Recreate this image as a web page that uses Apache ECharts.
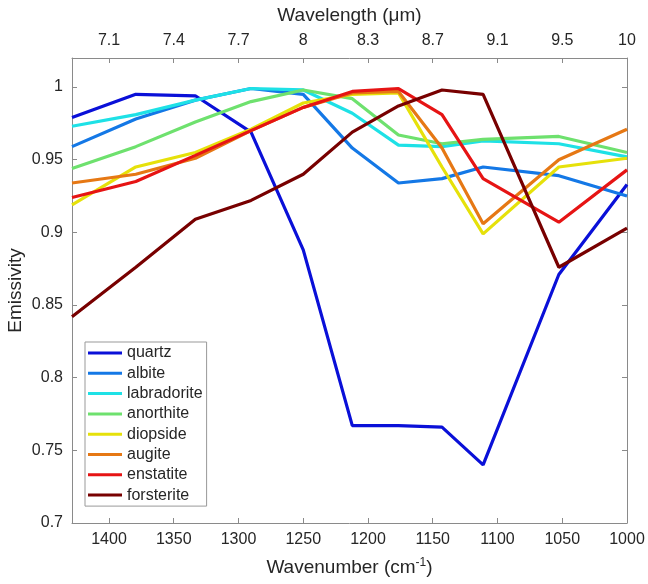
<!DOCTYPE html>
<html>
<head>
<meta charset="utf-8">
<script src="https://cdn.jsdelivr.net/npm/echarts@6/dist/echarts.min.js"></script>
<style>
  html, body { margin: 0; padding: 0; background: #fff; }
  #chart { width: 648px; height: 584px; }
</style>
</head>
<body>
<div id="chart"></div>
<script>
// wavenumbers (cm-1) of the samples = 10000 / wavelength
var wavenumber = [1428.57, 1379.31, 1333.33, 1290.32, 1250, 1212.12, 1176.47, 1142.86, 1111.11, 1052.63, 1000];

var mineralNames = ['quartz', 'albite', 'labradorite', 'anorthite', 'diopside', 'augite', 'enstatite', 'forsterite'];
var mineralColors = ['#0a10d8', '#1478e6', '#1ee1e6', '#6ee16e', '#e6e10a', '#e67814', '#e61414', '#780000'];

var quartz      = [0.979, 0.995, 0.994, 0.969, 0.888, 0.767, 0.767, 0.766, 0.740, 0.871, 0.933];
var albite      = [0.959, 0.978, 0.991, 0.999, 0.995, 0.958, 0.934, 0.937, 0.945, 0.939, 0.925];
var labradorite = [0.973, 0.981, 0.991, 0.999, 0.998, 0.982, 0.960, 0.959, 0.963, 0.961, 0.952];
var anorthite   = [0.944, 0.959, 0.976, 0.990, 0.998, 0.992, 0.967, 0.961, 0.964, 0.966, 0.955];
var diopside    = [0.919, 0.945, 0.955, 0.971, 0.989, 0.995, 0.996, 0.945, 0.899, 0.945, 0.951];
var augite      = [0.934, 0.940, 0.951, 0.970, 0.986, 0.996, 0.997, 0.958, 0.906, 0.950, 0.971];
var enstatite   = [0.924, 0.935, 0.953, 0.970, 0.986, 0.997, 0.999, 0.981, 0.937, 0.907, 0.943];
var forsterite  = [0.842, 0.876, 0.909, 0.922, 0.940, 0.969, 0.987, 0.998, 0.995, 0.876, 0.903];

var mineralValues = [quartz, albite, labradorite, anorthite, diopside, augite, enstatite, forsterite];

// bottom ticks and the matching wavelength labels on the top axis
var wavenumberTicks = [1400, 1350, 1300, 1250, 1200, 1150, 1100, 1050, 1000];
var wavelengthLabels = ['7.1', '7.4', '7.7', '8', '8.3', '8.7', '9.1', '9.5', '10'];

var chart = echarts.init(document.getElementById('chart'));

var fontFamily = 'Liberation Sans, Arial, sans-serif';
var textColor = '#262626';
var axisColor = '#8a8a8a';

var series = [];
for (var i = 0; i < mineralNames.length; i++) {
    var data = [];
    for (var j = 0; j < wavenumber.length; j++) {
        data.push([wavenumber[j], mineralValues[i][j]]);
    }
    series.push({
        name: mineralNames[i],
        type: 'line',
        data: data,
        symbol: 'none',
        xAxisIndex: 0,
        yAxisIndex: 0,
        lineStyle: { width: 3.2, color: mineralColors[i] },
        itemStyle: { color: mineralColors[i] },
        animation: false
    });
}

function xAxisBase(position) {
    return {
        type: 'value',
        position: position,
        min: 1000,
        max: 1428.57,
        interval: 50,
        inverse: true,
        axisLine: { show: true, lineStyle: { color: axisColor, width: 1 } },
        axisTick: { show: true, inside: true, length: 5, lineStyle: { color: axisColor } },
        splitLine: { show: false },
        axisLabel: {
            color: textColor,
            fontSize: 16,
            fontFamily: fontFamily,
            margin: 9
        },
        nameLocation: 'middle',
        nameMoveOverlap: false,
        nameTextStyle: { color: textColor, fontSize: 19, fontFamily: fontFamily }
    };
}

var bottomAxis = xAxisBase('bottom');
bottomAxis.name = 'Wavenumber (cm{sup|-1})';
bottomAxis.nameGap = 34;
bottomAxis.nameTextStyle.rich = { sup: { fontSize: 12, verticalAlign: 'top', padding: [0, 0, 10, 0], color: textColor, fontFamily: fontFamily } };
bottomAxis.axisLabel.formatter = function (v) {
    return wavenumberTicks.indexOf(Math.round(v)) >= 0 && Math.abs(v - Math.round(v)) < 1e-6 ? String(Math.round(v)) : '';
};

var topAxis = xAxisBase('top');
topAxis.name = 'Wavelength (\u03bcm)';
topAxis.nameGap = 33;
topAxis.axisLabel.formatter = function (v) {
    var k = wavenumberTicks.indexOf(Math.round(v));
    return (k >= 0 && Math.abs(v - Math.round(v)) < 1e-6) ? wavelengthLabels[k] : '';
};

var option = {
    backgroundColor: '#fff',
    animation: false,
    grid: { left: 72, right: 21, top: 58, bottom: 61, containLabel: false, outerBoundsMode: 'none' },
    legend: {
        data: mineralNames,
        orient: 'vertical',
        left: 85,
        top: 342,
        icon: 'rect',
        itemWidth: 34,
        itemHeight: 3,
        itemGap: 4.3,
        padding: [3, 4, 3, 3],
        backgroundColor: '#fff',
        borderColor: '#999',
        borderWidth: 1,
        borderRadius: 0,
        textStyle: { color: textColor, fontSize: 16, fontFamily: fontFamily, lineHeight: 16 }
    },
    xAxis: [bottomAxis, topAxis],
    yAxis: [
        {
            type: 'value',
            position: 'left',
            min: 0.7,
            max: 1.02,
            interval: 0.05,
            name: 'Emissivity',
            nameLocation: 'middle',
            nameGap: 47,
            nameMoveOverlap: false,
            nameTextStyle: { color: textColor, fontSize: 19, fontFamily: fontFamily },
            axisLine: { show: true, lineStyle: { color: axisColor, width: 1 } },
            axisTick: { show: true, inside: true, length: 5, lineStyle: { color: axisColor } },
            splitLine: { show: false },
            axisLabel: {
                color: textColor,
                fontSize: 16,
                fontFamily: fontFamily,
                margin: 9,
                showMaxLabel: false,
                formatter: function (v) {
                    if (v > 1.001) return '';
                    return String(Math.round(v * 100) / 100);
                }
            }
        },
        {
            type: 'value',
            position: 'right',
            min: 0.7,
            max: 1.02,
            interval: 0.05,
            axisLine: { show: true, lineStyle: { color: axisColor, width: 1 } },
            axisTick: { show: true, inside: true, length: 5, lineStyle: { color: axisColor } },
            splitLine: { show: false },
            axisLabel: { show: false }
        }
    ],
    series: series
};

chart.setOption(option);
</script>
</body>
</html>
